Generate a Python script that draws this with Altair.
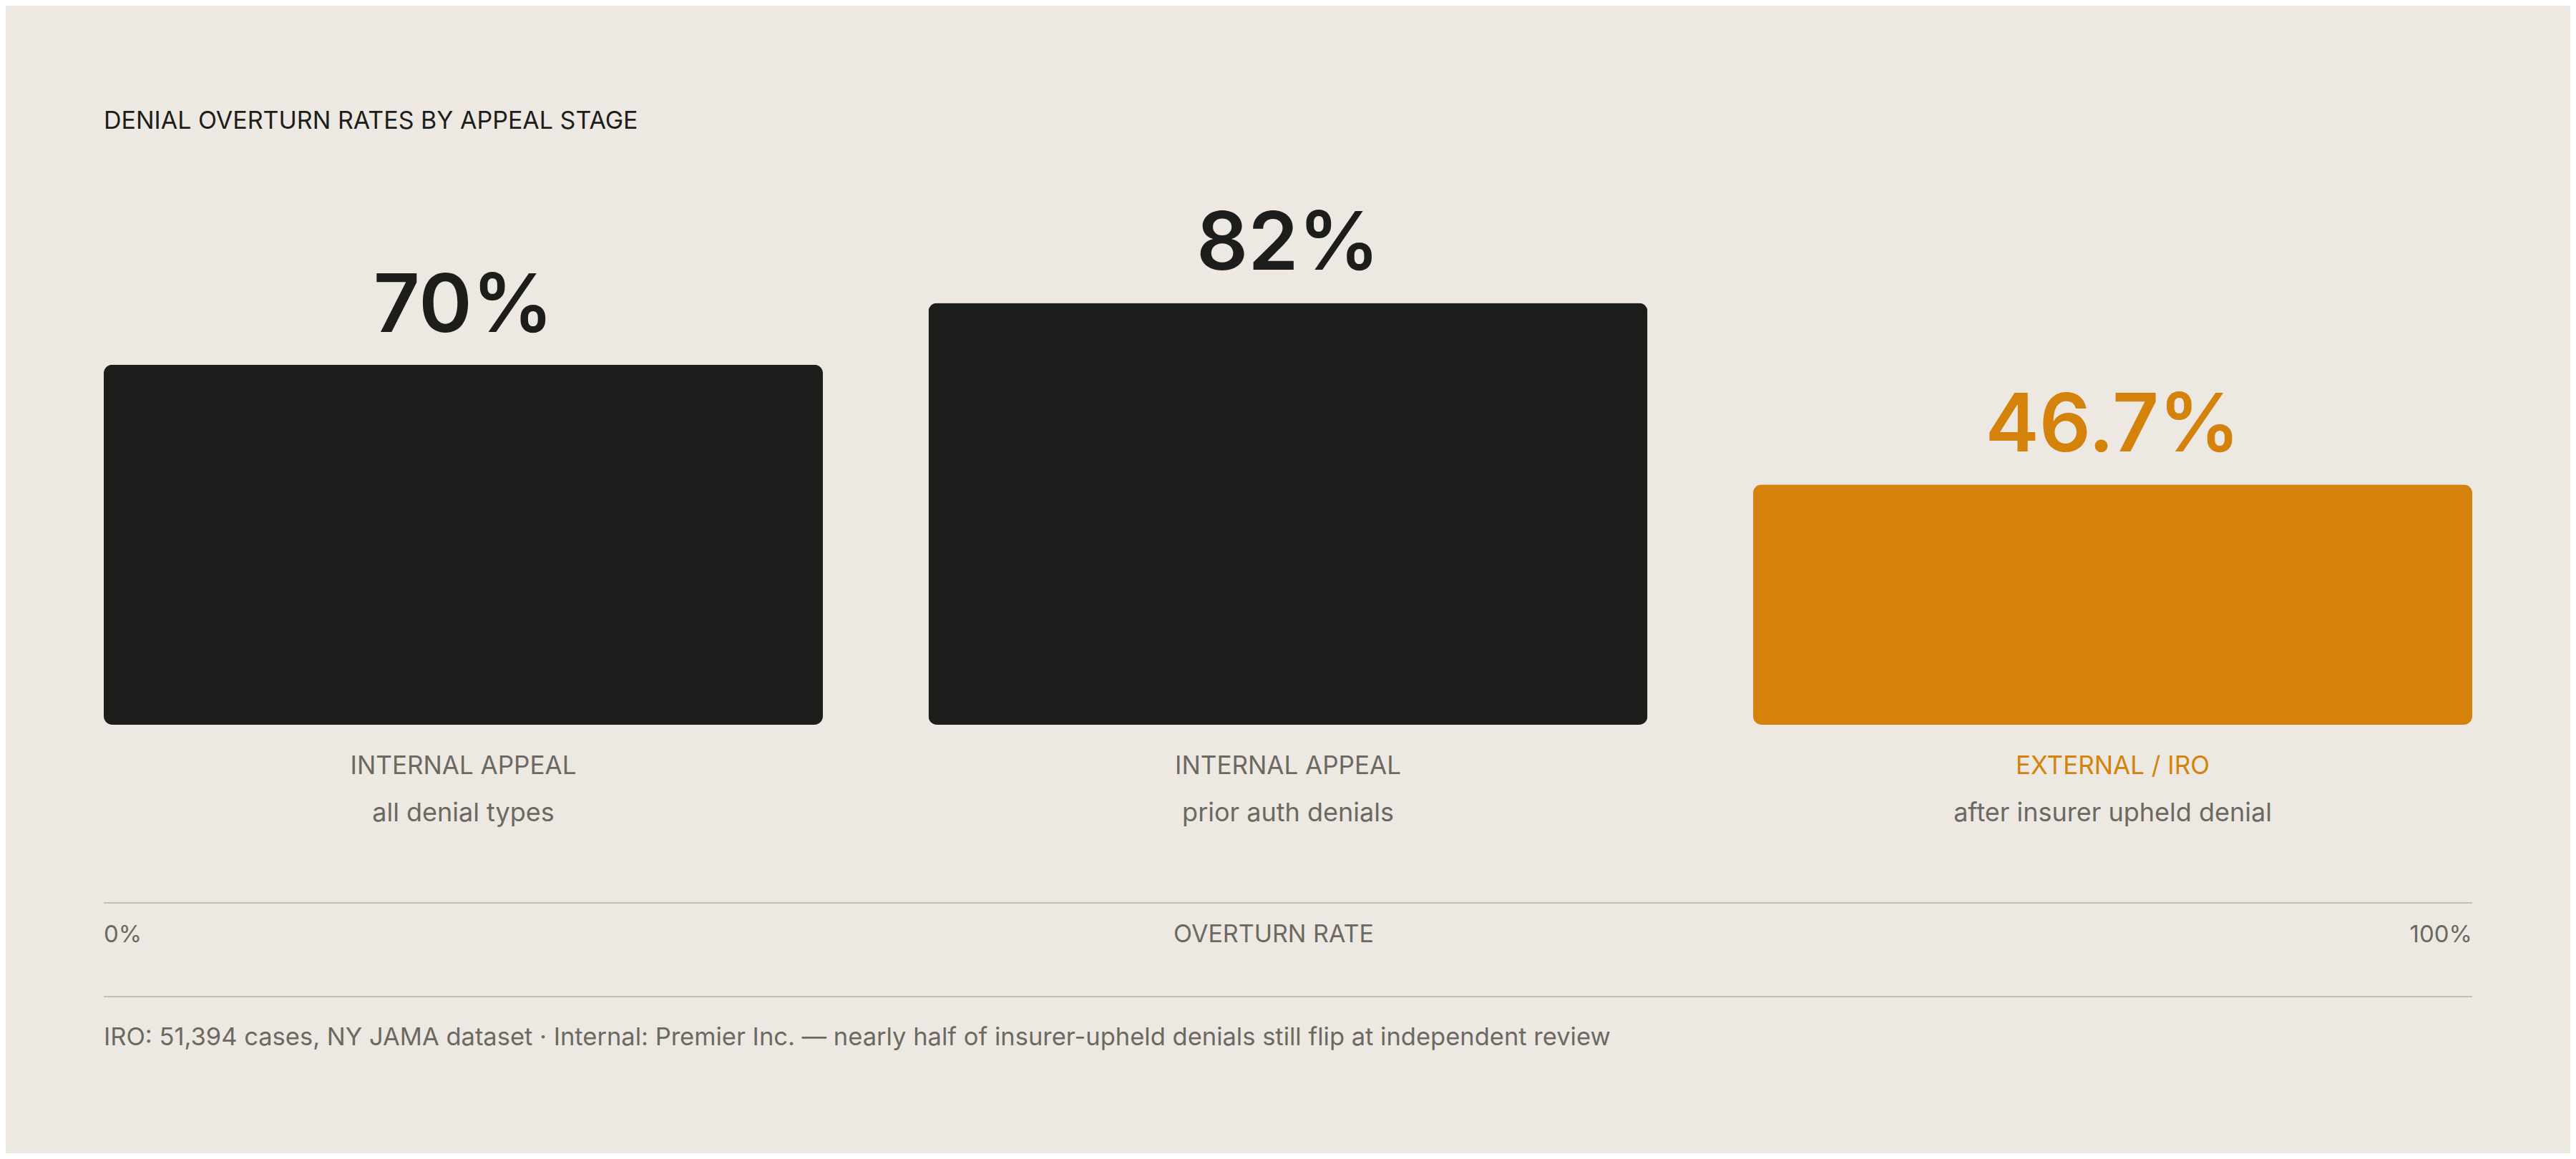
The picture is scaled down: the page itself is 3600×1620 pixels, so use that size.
import altair as alt
import pandas as pd

# ---- data ----
stages = ["INTERNAL APPEAL", "INTERNAL APPEAL", "EXTERNAL / IRO"]
subs = ["all denial types", "prior auth denials", "after insurer upheld denial"]
values = [70, 82, 46.7]
value_labels = ["70%", "82%", "46.7%"]
highlight = ["no", "no", "yes"]

title_text = "DENIAL OVERTURN RATES BY APPEAL STAGE"
axis_left = "0%"
axis_mid = "OVERTURN RATE"
axis_right = "100%"
footnote = ("IRO: 51,394 cases, NY JAMA dataset \u00b7 Internal: Premier Inc. \u2014 "
            "nearly half of insurer-upheld denials still flip at independent review")

df = pd.DataFrame({"stage": stages, "sub": subs, "value": values,
                   "label": value_labels, "hl": highlight})

BG = "#EDE9E2"
DARK = "#1D1D1B"
ORANGE = "#D4820A"
GRAY = "#6B6962"
LINE = "#C4C0B8"
FONT = "Inter"

W, H = 3584, 1604
X0, X1 = 137, 3447

xenc = alt.X("sub:N", sort=subs,
             scale=alt.Scale(domain=subs, range=[X0, X1], paddingInner=0.128, paddingOuter=0),
             axis=None)
yenc = alt.Y("value:Q", scale=alt.Scale(domain=[0, 100], range=[1005, 286]), axis=None)

base = alt.Chart(df).encode(x=xenc)

bars = base.mark_bar(cornerRadius=12).encode(
    y=yenc,
    color=alt.Color("hl:N", scale=alt.Scale(domain=["no", "yes"], range=[DARK, ORANGE]), legend=None),
)

vals = base.mark_text(baseline="alphabetic", align="center", dy=-46, fontSize=113,
                      fontWeight=600, font=FONT).encode(
    y=yenc,
    text="label:N",
    color=alt.Color("hl:N", scale=alt.Scale(domain=["no", "yes"], range=[DARK, ORANGE]), legend=None),
)

stage_txt = base.mark_text(baseline="alphabetic", align="center", fontSize=35,
                           font=FONT, fontWeight=400).encode(
    y=alt.value(1074),
    text="stage:N",
    color=alt.Color("hl:N", scale=alt.Scale(domain=["no", "yes"], range=[GRAY, ORANGE]), legend=None),
)

sub_txt = base.mark_text(baseline="alphabetic", align="center", fontSize=36,
                         font=FONT, fontWeight=400, color=GRAY).encode(
    y=alt.value(1140),
    text="sub:N",
)

one = alt.Chart(pd.DataFrame({"k": [0]}))

rule1 = one.mark_rule(color=LINE, strokeWidth=2).encode(
    x=alt.value(X0), x2=alt.value(X1), y=alt.value(1254))
rule2 = one.mark_rule(color=LINE, strokeWidth=2).encode(
    x=alt.value(X0), x2=alt.value(X1), y=alt.value(1385))

t_title = one.mark_text(align="left", baseline="alphabetic", fontSize=34, font=FONT,
                        color=DARK, text=title_text).encode(x=alt.value(X0), y=alt.value(172))
t_left = one.mark_text(align="left", baseline="alphabetic", fontSize=33, font=FONT,
                       color=GRAY, text=axis_left).encode(x=alt.value(X0), y=alt.value(1309))
t_mid = one.mark_text(align="center", baseline="alphabetic", fontSize=34, font=FONT,
                      color=GRAY, text=axis_mid).encode(x=alt.value(1772), y=alt.value(1309))
t_right = one.mark_text(align="right", baseline="alphabetic", fontSize=33, font=FONT,
                        color=GRAY, text=axis_right).encode(x=alt.value(X1), y=alt.value(1309))
t_foot = one.mark_text(align="left", baseline="alphabetic", fontSize=34.5, font=FONT,
                       color=GRAY, text=footnote).encode(x=alt.value(X0), y=alt.value(1453))

chart = alt.layer(
    bars, vals, stage_txt, sub_txt, rule1, rule2, t_title, t_left, t_mid, t_right, t_foot
).resolve_scale(color="independent").properties(
    width=W, height=H, background=BG, padding=0, autosize=alt.AutoSizeParams(type="none")
).configure_view(stroke=None)

chart.save("out.html", embed_options={"renderer": "svg", "actions": False})
